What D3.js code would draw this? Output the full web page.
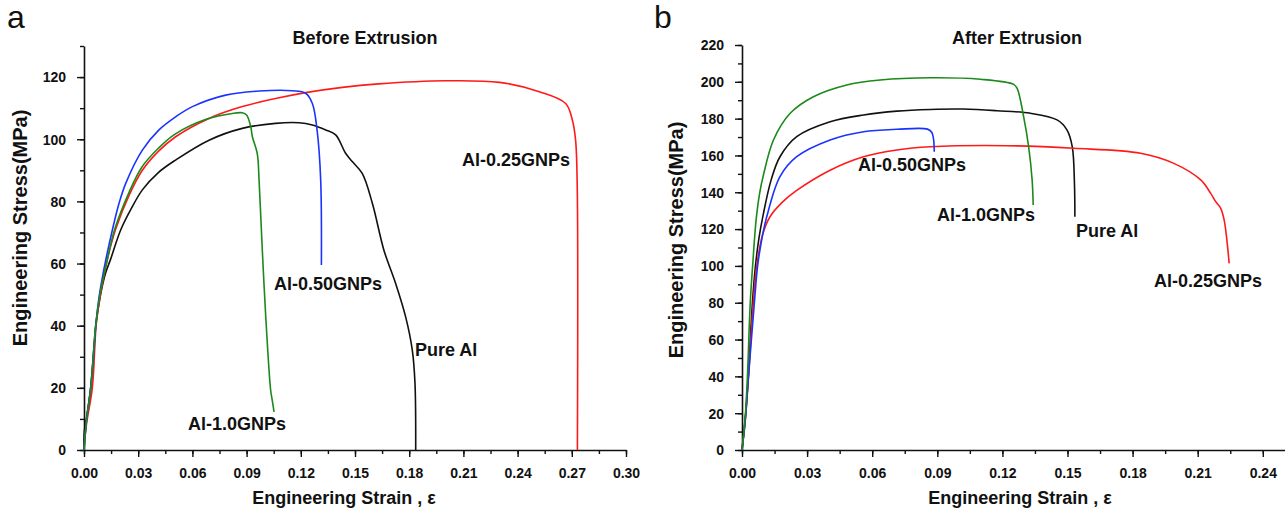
<!DOCTYPE html>
<html>
<head>
<meta charset="utf-8">
<script src="https://cdn.jsdelivr.net/npm/d3@7"></script>
<style>
  body { margin: 0; background: #fff; }
  svg { display: block; }
  text { font-family: "Liberation Sans", Arial, sans-serif; }
  .tick text { font-weight: bold; font-size: 14px; fill: #111; }
</style>
</head>
<body>
<div id="fig"></div>
<script>
// stress-strain curves, [strain, stress MPa]

// panel a, before extrusion
const beforePure = [[0,0],[0.0002,6],[0.0013,10],[0.0037,20],[0.0065,40],[0.008,46],[0.0095,51],[0.012,57],
  [0.0148,61.5],[0.0203,70.8],[0.026,77.5],[0.0323,83.7],[0.041,89.2],[0.0507,93.3],[0.0692,99.7],[0.0876,103.5],
  [0.106,105.1],[0.119,105.3],[0.1264,104.6],[0.1338,103],[0.1393,101.4],[0.1448,95.5],[0.1485,92.8],[0.154,89],
  [0.1596,79.4],[0.166,64.3],[0.1725,53.6],[0.178,42.9],[0.1817,32.2],[0.1832,21.5],[0.1836,0]];
const before025 = [[0,0],[0.0013,8],[0.0046,20],[0.0067,40],[0.0085,48],[0.011,56],[0.0134,62.5],[0.0175,71],
  [0.025,82],[0.0323,90],[0.041,96],[0.0507,100.8],[0.0692,106.7],[0.0876,110.5],[0.106,113.1],[0.1227,115],
  [0.143,116.7],[0.163,117.8],[0.20,118.8],[0.23,118.3],[0.252,115.3],[0.2666,111.5],[0.2703,106.2],[0.2721,99.7],
  [0.273,85],[0.2731,0]];
const before050 = [[0,0],[0.0013,9],[0.0037,20],[0.0059,35],[0.0065,40],[0.0083,49],[0.010,55],[0.012,61],
  [0.0157,70.8],[0.0194,79.4],[0.0231,85.8],[0.0323,96.5],[0.0415,103],[0.0507,107.2],[0.060,110.5],[0.0784,114.2],
  [0.0969,115.5],[0.1153,115.6],[0.1227,114.8],[0.1264,111.5],[0.129,103],[0.131,87],[0.1314,59.5]];
const before100 = [[0,0],[0.0013,9],[0.0037,20],[0.0065,40],[0.0088,50],[0.013,61.5],[0.017,71],[0.025,83],[0.032,91],
  [0.041,97],[0.05,101.5],[0.068,106.5],[0.0821,108.3],[0.0876,108.5],[0.090,107.8],[0.0923,104],[0.0932,100.8],
  [0.0959,95.4],[0.0969,86.9],[0.0987,64.3],[0.1006,42.9],[0.1033,19.3],[0.1042,16],[0.1052,12.3]];

// panel b, after extrusion
const afterPure = [[0,0],[0.0017,20],[0.003,42],[0.0048,80],[0.0062,100],[0.0078,115],[0.0098,128],[0.0135,147],
  [0.0175,159.3],[0.0252,170.2],[0.0406,178.3],[0.056,182],[0.0714,184.1],[0.0868,185],[0.102,185.2],[0.1175,184.3],
  [0.1329,182.9],[0.1452,179.3],[0.1498,173.8],[0.1522,164.7],[0.1532,145],[0.1534,126.7]];
const after025 = [[0,0],[0.0015,16],[0.003,40],[0.0052,80],[0.0068,100],[0.0095,117],[0.0129,126.7],[0.0185,134.5],
  [0.0252,141],[0.0406,152],[0.056,159.3],[0.0714,163],[0.0868,164.7],[0.1222,165.3],[0.1529,163.9],[0.1837,161.2],
  [0.199,155.7],[0.2114,146.7],[0.216,139.4],[0.2183,134.9],[0.2206,131.3],[0.2222,124.9],[0.2245,101.4]];
const after050 = [[0,0],[0.0015,16],[0.003,40],[0.0057,80],[0.0072,100],[0.0092,115],[0.0114,126.7],[0.0175,148.5],
  [0.0252,159.3],[0.0406,168.4],[0.056,172.9],[0.0714,174.2],[0.0855,174.3],[0.0875,172.5],[0.0883,168.6],
  [0.0886,162]];
const after100 = [[0,0],[0.0015,18],[0.0025,40],[0.0038,80],[0.0049,100],[0.0065,125],[0.0082,140],[0.0098,149],
  [0.0145,168.4],[0.0222,182.9],[0.0329,191.9],[0.0483,198.3],[0.0637,201],[0.0868,202.2],[0.1098,201.4],
  [0.1252,198.6],[0.1268,196.4],[0.1298,181],[0.1321,164.7],[0.1337,146.7],[0.1342,133.1]];

const seriesNames = ["Pure Al", "Al-0.25GNPs", "Al-0.50GNPs", "Al-1.0GNPs"];
const seriesColors = ["#111111", "#ff1a1a", "#1a33ff", "#1a8a1a"];

const xTicksA = [0, 0.03, 0.06, 0.09, 0.12, 0.15, 0.18, 0.21, 0.24, 0.27, 0.30];
const xTicksB = [0, 0.03, 0.06, 0.09, 0.12, 0.15, 0.18, 0.21, 0.24];
const yTicksA = [0, 20, 40, 60, 80, 100, 120];
const yTicksB = [0, 20, 40, 60, 80, 100, 120, 140, 160, 180, 200, 220];

const W = 1286, H = 519;
const svg = d3.select("#fig").append("svg").attr("width", W).attr("height", H);

function drawPanel(p) {
  const g = svg.append("g");
  const x = d3.scaleLinear().domain(p.xDomain).range([p.left, p.right]);
  const y = d3.scaleLinear().domain(p.yDomain).range([p.bottom, p.top]);

  // minor ticks first, then major axis on top
  const xMinor = d3.range(0, p.xDomain[1] + 1e-9, 0.015);
  const yMinor = d3.range(0, p.yDomain[1] + 1e-9, 10);
  g.append("g").attr("transform", `translate(0,${p.bottom})`)
    .call(d3.axisBottom(x).tickValues(xMinor).tickSize(4).tickFormat(""))
    .call(a => a.select(".domain").remove());
  g.append("g").attr("transform", `translate(${p.left},0)`)
    .call(d3.axisLeft(y).tickValues(yMinor).tickSize(4).tickFormat(""))
    .call(a => a.select(".domain").remove());

  const xa = g.append("g").attr("transform", `translate(0,${p.bottom})`)
    .call(d3.axisBottom(x).tickValues(p.xTicks).tickSize(7).tickSizeOuter(0).tickPadding(8).tickFormat(d3.format(".2f")));
  const ya = g.append("g").attr("transform", `translate(${p.left},0)`)
    .call(d3.axisLeft(y).tickValues(p.yTicks).tickSize(7).tickSizeOuter(0).tickPadding(11).tickFormat(d3.format("d")));
  g.selectAll(".domain").attr("stroke", "#111").attr("stroke-width", 1.6);
  g.selectAll(".tick line").attr("stroke", "#111").attr("stroke-width", 1.4);
  xa.selectAll(".tick text").attr("dy", "0.9em");
  ya.selectAll(".tick text").attr("dy", "0.35em");

  const line = d3.line()
    .x(d => x(d[0]))
    .y(d => y(d[1]))
    .curve(d3.curveCatmullRom.alpha(0.5));

  p.series.forEach((s, i) => {
    g.append("path")
      .datum(s)
      .attr("d", line)
      .attr("fill", "none")
      .attr("stroke", seriesColors[i])
      .attr("stroke-width", 1.6);
  });

  p.labels.forEach((lb, i) => {
    g.append("text")
      .attr("x", lb[0]).attr("y", lb[1])
      .attr("dy", "0.35em")
      .attr("font-size", 18).attr("font-weight", "bold").attr("fill", "#111")
      .text(seriesNames[i]);
  });

  g.append("text")
    .attr("x", p.titleX).attr("y", 38)
    .attr("dy", "0.35em")
    .attr("text-anchor", "middle")
    .attr("font-size", 18).attr("font-weight", "bold").attr("fill", "#111")
    .text(p.title);

  g.append("text")
    .attr("x", p.xLabelX).attr("y", 498)
    .attr("dy", "0.35em")
    .attr("text-anchor", "middle")
    .attr("font-size", 18).attr("font-weight", "bold").attr("fill", "#111")
    .text("Engineering Strain , ε");

  g.append("text")
    .attr("transform", `translate(${p.yLabelX},${p.yLabelY}) rotate(-90)`)
    .attr("dy", "0.35em")
    .attr("text-anchor", "middle")
    .attr("font-size", 20).attr("font-weight", "bold").attr("fill", "#111")
    .text("Engineering Stress(MPa)");

  g.append("text")
    .attr("x", p.letterX).attr("y", 28)
    .attr("font-size", 32).attr("fill", "#111")
    .text(p.letter);
}

drawPanel({
  letter: "a", letterX: 7,
  title: "Before Extrusion", titleX: 365,
  xDomain: [0, 0.30], yDomain: [0, 130],
  left: 84, right: 626, top: 46, bottom: 450,
  xTicks: xTicksA, yTicks: yTicksA,
  series: [beforePure, before025, before050, before100],
  labels: [[415, 350], [462, 160], [274, 284], [188, 424]],
  xLabelX: 344, yLabelX: 20, yLabelY: 228
});

drawPanel({
  letter: "b", letterX: 654,
  title: "After Extrusion", titleX: 1017,
  xDomain: [0, 0.25], yDomain: [0, 220],
  left: 742, right: 1284.5, top: 45, bottom: 450,
  xTicks: xTicksB, yTicks: yTicksB,
  series: [afterPure, after025, after050, after100],
  labels: [[1076, 231], [1154, 281], [858, 165], [937, 215]],
  xLabelX: 1020, yLabelX: 676, yLabelY: 240
});
</script>
</body>
</html>
